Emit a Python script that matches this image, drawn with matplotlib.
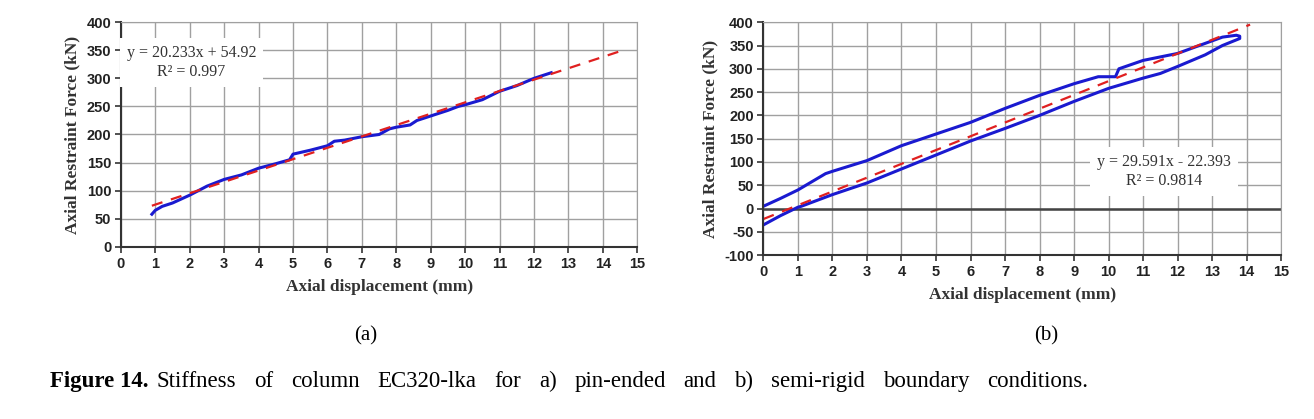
import matplotlib.pyplot as plt
import numpy as np

# (a) pin-ended: measured curve
xa = [0.9, 1.0, 1.2, 1.5, 2.0, 2.5, 3.0, 3.5, 4.0, 4.5, 4.9, 5.0, 5.5, 6.0, 6.2, 6.5,
      7.0, 7.5, 7.8, 8.0, 8.4, 8.6, 9.0, 9.5, 9.8, 10.0, 10.5, 11.0, 11.5, 12.0, 12.5]
ya = [58, 65, 72, 78, 92, 108, 120, 128, 140, 148, 155, 165, 172, 180, 188, 190,
      196, 200, 210, 213, 217, 225, 233, 243, 250, 253, 262, 277, 287, 300, 310]
fit_a = (20.233, 54.92)
fit_a_x = [0.9, 14.6]

# (b) semi-rigid: loading + unloading loop
xb = [0.0, 0.5, 1.0, 1.8, 2.0, 3.0, 4.0, 5.0, 6.0, 7.0, 8.0, 9.0, 9.7, 10.2, 10.3,
      11.0, 12.0, 13.0, 13.3, 13.7, 13.8,
      13.8, 13.3, 12.8, 12.0, 11.5, 11.0, 10.0, 9.0, 8.0, 7.0, 6.0, 5.0, 4.0, 3.0,
      2.0, 1.1, 1.0, 0.5, 0.0]
yb = [5, 22, 40, 75, 80, 103, 135, 160, 185, 215, 243, 268, 283, 283, 300,
      318, 333, 360, 368, 372, 370,
      365, 350, 330, 305, 290, 280, 258, 230, 200, 172, 145, 115, 85, 55,
      30, 5, 3, -15, -35]
fit_b = (29.591, -22.393)
fit_b_x = [0.0, 14.1]

caption_head = 'Figure 14.'
caption_body = 'Stiffness of column EC320-lka for a) pin-ended and b) semi-rigid boundary conditions.'

plt.rcParams['font.family'] = ['Liberation Serif', 'DejaVu Serif']
plt.rcParams['axes.unicode_minus'] = False

fig = plt.figure(figsize=(13.14, 4.19), dpi=100)


def panel(ax, x, y, fit, fitx, ylim, yticks, eq, eqpos):
    ax.set_xlim(0, 15)
    ax.set_ylim(*ylim)
    ax.set_xticks(range(0, 16))
    ax.set_yticks(yticks)
    ax.grid(True, color='#a0a0a0', linewidth=1.0)
    ax.set_axisbelow(True)
    for s in ['top', 'right']:
        ax.spines[s].set_color('#a0a0a0')
    for s in ['left', 'bottom']:
        ax.spines[s].set_color('#333333')
        ax.spines[s].set_linewidth(1.5)
    ax.tick_params(direction='out', length=4, width=1.2, colors='#333333', pad=3)
    for lab in ax.get_xticklabels() + ax.get_yticklabels():
        lab.set_fontfamily('Liberation Sans')
        lab.set_fontweight('bold')
        lab.set_fontsize(10.5)
        lab.set_color('#222222')
    ax.plot(x, y, color='#1a1ad0', linewidth=2.2)
    fx = np.array(fitx)
    ax.plot(fx, fit[0] * fx + fit[1], color='#e02020', linestyle='--', linewidth=1.6,
            dashes=(5, 4))
    ax.set_xlabel('Axial displacement (mm)', fontsize=12.5, fontweight='bold',
                  color='#333333', labelpad=6)
    ax.set_ylabel('Axial Restraint Force (kN)', fontsize=12.5, fontweight='bold',
                  color='#333333', labelpad=4)
    ax.text(eqpos[0], eqpos[1], eq, fontsize=11.5, ha='center', va='center',
            color='#333333', linespacing=1.3,
            bbox=dict(facecolor='white', edgecolor='none', pad=5))


ax1 = fig.add_axes([0.092, 0.411, 0.393, 0.536])
panel(ax1, xa, ya, fit_a, fit_a_x, (0, 400), range(0, 401, 50),
      'y = 20.233x + 54.92\nR² = 0.997', (2.05, 328))

ax2 = fig.add_axes([0.581, 0.391, 0.394, 0.556])
ax2.axhline(0, color='#444444', linewidth=1.8, zorder=1.5)
panel(ax2, xb, yb, fit_b, fit_b_x, (-100, 400), range(-100, 401, 50),
      'y = 29.591x - 22.393\nR² = 0.9814', (11.6, 80))

fig.text(366 / 1314, 1 - 336 / 419, '(a)', fontsize=15, ha='center', va='center')
fig.text(1046 / 1314, 1 - 336 / 419, '(b)', fontsize=15, ha='center', va='center')

# caption, justified between x=157 px and x=1088 px like the original
cy = 1 - 381 / 419
fig.text(50 / 1314, cy, caption_head, fontsize=16.5, fontweight='bold',
         ha='left', va='center')
renderer = fig.canvas.get_renderer()
words = caption_body.split()
widths = []
for w in words:
    t = fig.text(0, 0, w, fontsize=16.5)
    widths.append(t.get_window_extent(renderer).width)
    t.remove()
x0, x1 = 157, 1088
gap = (x1 - x0 - sum(widths)) / (len(words) - 1)
xpos = x0
for w, wd in zip(words, widths):
    fig.text(xpos / 1314, cy, w, fontsize=16.5, ha='left', va='center')
    xpos += wd + gap

fig.savefig('out.png', dpi=100)
